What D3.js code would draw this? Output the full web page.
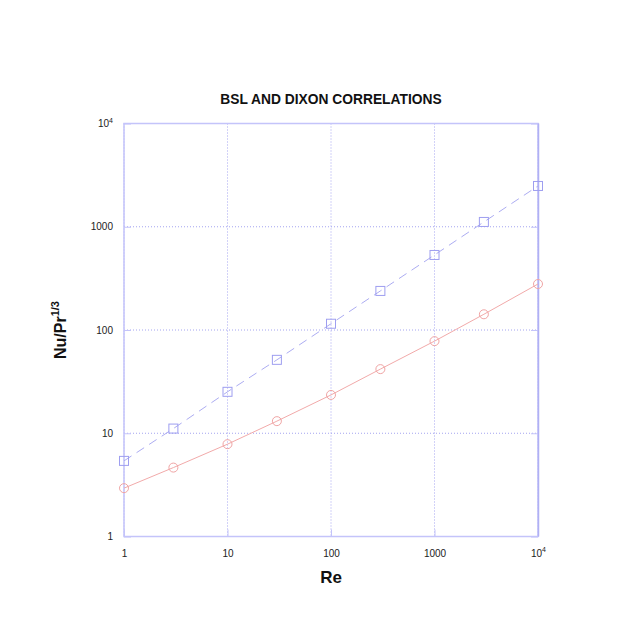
<!DOCTYPE html>
<html>
<head>
<meta charset="utf-8">
<script src="https://cdn.jsdelivr.net/npm/d3@7"></script>
<style>
  body { margin: 0; background: #fff; }
  svg { display: block; font-family: "Liberation Sans", Arial, sans-serif; }
</style>
</head>
<body>
<svg id="chart" width="620" height="620"></svg>
<script>
// Re values and the two correlations (Nu/Pr^1/3)
const reValues = [1, 3, 10, 30, 100, 300, 1000, 3000, 10000];
const bslValues = [2.94, 4.65, 7.84, 13.1, 23.5, 41.8, 78, 142, 279];
const dixonValues = [5.4, 11.1, 25.2, 51.4, 115, 239, 533, 1113, 2483];
const tickValues = [1, 10, 100, 1000, 10000];
const tickLabels = ["1", "10", "100", "1000", "10^4"];

const svg = d3.select("#chart");
const margin = { left: 124, right: 538, top: 123.5, bottom: 536.5 };

const x = d3.scaleLog().domain([1, 10000]).range([margin.left, margin.right]);
const y = d3.scaleLog().domain([1, 10000]).range([margin.bottom, margin.top]);

const gridColor = "#a4a4f0";
const frameColor = "#c4c4fa";

// grid
const grid = svg.append("g");
tickValues.forEach(v => {
  grid.append("line")
    .attr("x1", x(v)).attr("x2", x(v))
    .attr("y1", margin.top).attr("y2", margin.bottom)
    .attr("stroke", gridColor).attr("stroke-width", 1)
    .attr("stroke-dasharray", "1,2");
  grid.append("line")
    .attr("x1", margin.left).attr("x2", margin.right)
    .attr("y1", y(v)).attr("y2", y(v))
    .attr("stroke", gridColor).attr("stroke-width", 1)
    .attr("stroke-dasharray", "1,2");
});

// axes with inward ticks
const labelFor = v => tickLabels[tickValues.indexOf(v)];
const fmt = (sel) => {
  sel.selectAll(".tick text").each(function(d) {
    const t = d3.select(this);
    const lab = labelFor(d);
    t.text(null);
    if (lab === "10^4") {
      t.append("tspan").text("10");
      t.append("tspan").attr("dy", "-0.6em").attr("font-size", "7px").text("4");
    } else {
      t.text(lab);
    }
  });
  sel.select(".domain").remove();
  sel.selectAll(".tick line").attr("stroke", frameColor);
  sel.selectAll(".tick text").attr("fill", "#222").attr("font-size", "10px");
};

svg.append("g")
  .attr("transform", `translate(0,${margin.bottom})`)
  .call(d3.axisBottom(x).tickValues(tickValues).tickSize(-7).tickPadding(13))
  .call(fmt);

svg.append("g")
  .attr("transform", `translate(${margin.left},0)`)
  .call(d3.axisLeft(y).tickValues(tickValues).tickSize(-7).tickPadding(11))
  .call(fmt);

svg.append("g")
  .attr("transform", `translate(${margin.right},0)`)
  .call(d3.axisRight(y).tickValues(tickValues).tickSize(-7).tickFormat(""))
  .call(sel => { sel.select(".domain").remove(); sel.selectAll(".tick line").attr("stroke", frameColor); });

// frame
svg.append("rect")
  .attr("x", margin.left).attr("y", margin.top)
  .attr("width", margin.right - margin.left)
  .attr("height", margin.bottom - margin.top)
  .attr("fill", "none").attr("stroke", frameColor).attr("stroke-width", 1.5);
svg.append("line")
  .attr("x1", margin.right + 0.5).attr("x2", margin.right + 0.5)
  .attr("y1", margin.top).attr("y2", margin.bottom)
  .attr("stroke", "#b0b0f4").attr("stroke-width", 1.5);

// series
const line = d3.line().x(d => x(d[0])).y(d => y(d[1]));
const bsl = reValues.map((r, i) => [r, bslValues[i]]);
const dixon = reValues.map((r, i) => [r, dixonValues[i]]);

svg.append("path").datum(bsl).attr("d", line)
  .attr("fill", "none").attr("stroke", "#f2aaaa").attr("stroke-width", 1);
svg.append("path").datum(dixon).attr("d", line)
  .attr("fill", "none").attr("stroke", "#acacf2").attr("stroke-width", 1)
  .attr("stroke-dasharray", "9,6");

svg.append("g").selectAll("circle").data(bsl).join("circle")
  .attr("cx", d => x(d[0])).attr("cy", d => y(d[1])).attr("r", 4.5)
  .attr("fill", "none").attr("stroke", "#f0a4a4").attr("stroke-width", 1);

svg.append("g").selectAll("rect").data(dixon).join("rect")
  .attr("x", d => x(d[0]) - 4.5).attr("y", d => y(d[1]) - 4.5)
  .attr("width", 9).attr("height", 9)
  .attr("fill", "none").attr("stroke", "#9e9ef0").attr("stroke-width", 1);

// title and labels
svg.append("text")
  .attr("x", 331).attr("y", 104)
  .attr("text-anchor", "middle")
  .attr("font-size", "13.8px").attr("font-weight", "bold").attr("fill", "#111")
  .text("BSL AND DIXON CORRELATIONS");

svg.append("text")
  .attr("x", 331).attr("y", 583)
  .attr("text-anchor", "middle")
  .attr("font-size", "17px").attr("font-weight", "bold").attr("fill", "#111")
  .text("Re");

const yl = svg.append("text")
  .attr("transform", "translate(66,330) rotate(-90)")
  .attr("text-anchor", "middle")
  .attr("font-size", "16px").attr("font-weight", "bold").attr("fill", "#111");
yl.append("tspan").text("Nu/Pr");
yl.append("tspan").attr("dy", "-0.6em").attr("font-size", "11px").text("1/3");
</script>
</body>
</html>
